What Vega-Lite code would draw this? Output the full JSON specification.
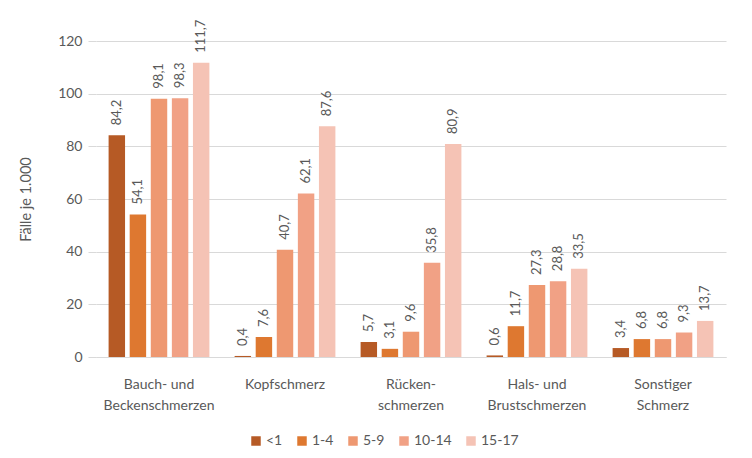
{
  "$schema": "https://vega.github.io/schema/vega-lite/v6.json",
  "width": 630,
  "height": 316,
  "autosize": {"type": "none"},
  "padding": {"left": 96, "top": 41, "right": 26, "bottom": 101},
  "background": "white",
  "config": {
    "view": {"stroke": null},
    "font": "Lato",
    "axis": {"labelFont": "Lato", "titleFont": "Lato", "labelColor": "#595959", "titleColor": "#595959"},
    "legend": {"labelFont": "Lato"}
  },
  "data": {
    "values": [
      {"cat": "Bauch- und|Beckenschmerzen", "age": "<1", "value": 84.2, "label": "84,2"},
      {"cat": "Bauch- und|Beckenschmerzen", "age": "1-4", "value": 54.1, "label": "54,1"},
      {"cat": "Bauch- und|Beckenschmerzen", "age": "5-9", "value": 98.1, "label": "98,1"},
      {"cat": "Bauch- und|Beckenschmerzen", "age": "10-14", "value": 98.3, "label": "98,3"},
      {"cat": "Bauch- und|Beckenschmerzen", "age": "15-17", "value": 111.7, "label": "111,7"},
      {"cat": "Kopfschmerz", "age": "<1", "value": 0.4, "label": "0,4"},
      {"cat": "Kopfschmerz", "age": "1-4", "value": 7.6, "label": "7,6"},
      {"cat": "Kopfschmerz", "age": "5-9", "value": 40.7, "label": "40,7"},
      {"cat": "Kopfschmerz", "age": "10-14", "value": 62.1, "label": "62,1"},
      {"cat": "Kopfschmerz", "age": "15-17", "value": 87.6, "label": "87,6"},
      {"cat": "Rücken-|schmerzen", "age": "<1", "value": 5.7, "label": "5,7"},
      {"cat": "Rücken-|schmerzen", "age": "1-4", "value": 3.1, "label": "3,1"},
      {"cat": "Rücken-|schmerzen", "age": "5-9", "value": 9.6, "label": "9,6"},
      {"cat": "Rücken-|schmerzen", "age": "10-14", "value": 35.8, "label": "35,8"},
      {"cat": "Rücken-|schmerzen", "age": "15-17", "value": 80.9, "label": "80,9"},
      {"cat": "Hals- und|Brustschmerzen", "age": "<1", "value": 0.6, "label": "0,6"},
      {"cat": "Hals- und|Brustschmerzen", "age": "1-4", "value": 11.7, "label": "11,7"},
      {"cat": "Hals- und|Brustschmerzen", "age": "5-9", "value": 27.3, "label": "27,3"},
      {"cat": "Hals- und|Brustschmerzen", "age": "10-14", "value": 28.8, "label": "28,8"},
      {"cat": "Hals- und|Brustschmerzen", "age": "15-17", "value": 33.5, "label": "33,5"},
      {"cat": "Sonstiger|Schmerz", "age": "<1", "value": 3.4, "label": "3,4"},
      {"cat": "Sonstiger|Schmerz", "age": "1-4", "value": 6.8, "label": "6,8"},
      {"cat": "Sonstiger|Schmerz", "age": "5-9", "value": 6.8, "label": "6,8"},
      {"cat": "Sonstiger|Schmerz", "age": "10-14", "value": 9.3, "label": "9,3"},
      {"cat": "Sonstiger|Schmerz", "age": "15-17", "value": 13.7, "label": "13,7"}
    ]
  },
  "encoding": {
    "x": {
      "field": "cat", "type": "nominal", "sort": null, "title": null,
      "scale": {"paddingInner": 0.2, "paddingOuter": 0.1},
      "axis": {
        "labelExpr": "split(datum.label, '|')",
        "labelAngle": 0, "labelFontSize": 14, "labelPadding": 20,
        "ticks": false, "domainColor": "#d9d9d9", "labelLineHeight": 21, "labelBaseline": "top"
      }
    },
    "xOffset": {"field": "age", "type": "nominal", "sort": ["<1", "1-4", "5-9", "10-14", "15-17"], "scale": {"paddingInner": 0.22}},
    "y": {
      "field": "value", "type": "quantitative",
      "scale": {"domain": [0, 120]},
      "title": "Fälle je 1.000",
      "axis": {
        "values": [0, 20, 40, 60, 80, 100, 120],
        "domain": false, "ticks": true, "tickColor": "#d9d9d9", "tickSize": 8,
        "gridColor": "#d9d9d9", "labelFontSize": 14, "labelPadding": 6,
        "titleFontSize": 14.5, "titleFontWeight": "normal", "titlePadding": 24
      }
    }
  },
  "layer": [
    {
      "mark": {"type": "bar"},
      "encoding": {
        "color": {
          "field": "age", "type": "nominal",
          "sort": ["<1", "1-4", "5-9", "10-14", "15-17"],
          "scale": {"domain": ["<1", "1-4", "5-9", "10-14", "15-17"], "range": ["#b65a25", "#de7830", "#ee9871", "#f1a185", "#f5c3b5"]},
          "legend": {
            "title": null, "orient": "none", "direction": "horizontal",
            "legendX": 153, "legendY": 393,
            "symbolType": "square", "symbolSize": 90, "symbolStrokeWidth": 0,
            "labelFontSize": 14, "labelColor": "#595959", "columnPadding": 12, "labelOffset": 3
          }
        }
      }
    },
    {
      "mark": {"type": "text", "angle": 270, "align": "left", "baseline": "middle", "dx": 10, "fontSize": 13, "color": "#595959"},
      "encoding": {"text": {"field": "label"}}
    }
  ]
}
